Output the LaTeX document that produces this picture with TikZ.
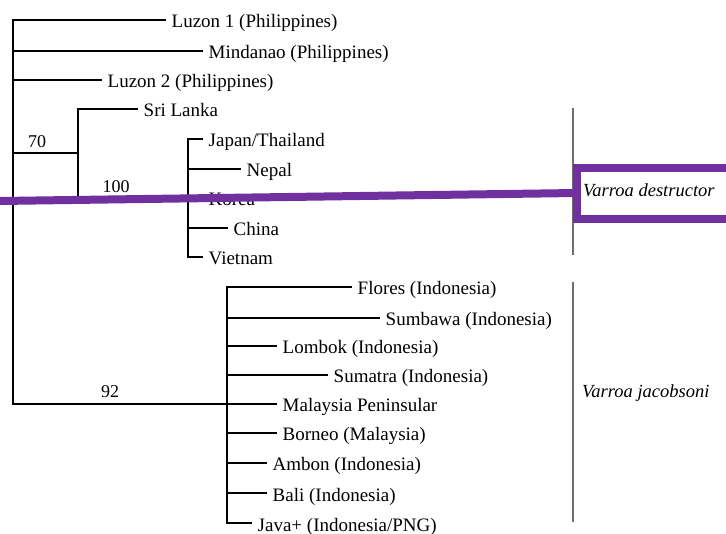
\documentclass[tikz,border=0pt]{standalone}
\usepackage{fontspec}
\setmainfont{Liberation Serif}
\definecolor{vpurple}{RGB}{112,48,160}
\definecolor{brgray}{RGB}{110,110,110}
\begin{document}
\begin{tikzpicture}[x=1pt,y=-1pt,
  tree/.style={line width=1.3pt,black},
  tip/.style={anchor=west,inner xsep=5.5pt,inner ysep=0pt,text height=16pt,text depth=0pt,font=\fontsize{19}{22}\selectfont},
  support/.style={anchor=base,inner sep=0pt,font=\fontsize{18}{22}\selectfont},
  species/.style={anchor=base west,inner sep=0pt,font=\fontsize{18.5}{22}\selectfont\itshape},
  bracket/.style={line width=1.5pt,brgray},
  highlight/.style={line width=8pt,vpurple}]
\useasboundingbox (0,0) rectangle (726,534);
% internal nodes
\coordinate (root) at (13,210);
\coordinate (n70) at (78,153);
\coordinate (n100) at (188,197);
\coordinate (n92) at (227,404);
% tips
\node[tip] (luz1) at (166,20) {Luzon 1 (Philippines)};
\node[tip] (mind) at (203,51) {Mindanao (Philippines)};
\node[tip] (luz2) at (102,80) {Luzon 2 (Philippines)};
\node[tip] (sri) at (138,109) {Sri Lanka};
\node[tip] (jap) at (203,139) {Japan/Thailand};
\node[tip] (nep) at (241,169) {Nepal};
\node[tip] (kor) at (203,198) {Korea};
\node[tip] (chi) at (228,228) {China};
\node[tip] (vie) at (203,257) {Vietnam};
\node[tip] (flo) at (352,287) {Flores (Indonesia)};
\node[tip] (sumb) at (380,318) {Sumbawa (Indonesia)};
\node[tip] (lom) at (277,346) {Lombok (Indonesia)};
\node[tip] (suma) at (328,375) {Sumatra (Indonesia)};
\node[tip] (mal) at (277,404) {Malaysia Peninsular};
\node[tip] (bor) at (277,433) {Borneo (Malaysia)};
\node[tip] (amb) at (267,463) {Ambon (Indonesia)};
\node[tip] (bali) at (267,493) {Bali (Indonesia)};
\node[tip] (java) at (252,523) {Java+ (Indonesia/PNG)};
% edges
\draw[tree] (root) |- (luz1.west);
\draw[tree] (root) |- (mind.west);
\draw[tree] (root) |- (luz2.west);
\draw[tree] (root) |- (n70);
\draw[tree] (root) |- (n92);
\draw[tree] (n70) |- (sri.west);
\draw[tree] (n70) |- (n100);
\foreach \t in {jap,nep,kor,chi,vie} \draw[tree] (n100) |- (\t.west);
\foreach \t in {flo,sumb,lom,suma,mal,bor,amb,bali,java} \draw[tree] (n92) |- (\t.west);
% support values
\node[support] (s70) at (37,148) {70};
\node[support] (s100) at (116,193) {100};
\node[support] (s92) at (110,398) {92};
% species brackets
\coordinate (bd1) at (573,108);
\coordinate (bd2) at (573,255);
\coordinate (bj1) at (573,282);
\coordinate (bj2) at (573,522);
\draw[bracket] (bd1) -- (bd2);
\draw[bracket] (bj1) -- (bj2);
\node[species] (vdes) at (583,197) {Varroa destructor};
\node[species] (vjac) at (582,398) {Varroa jacobsoni};
% highlight
\coordinate (hl) at (0,201);
\coordinate (hb) at (577,193);
\draw[highlight] (hl) -- (hb);
\draw[highlight] (740,168) -- (577,168) -- (577,219) -- (740,219);
\end{tikzpicture}
\end{document}
